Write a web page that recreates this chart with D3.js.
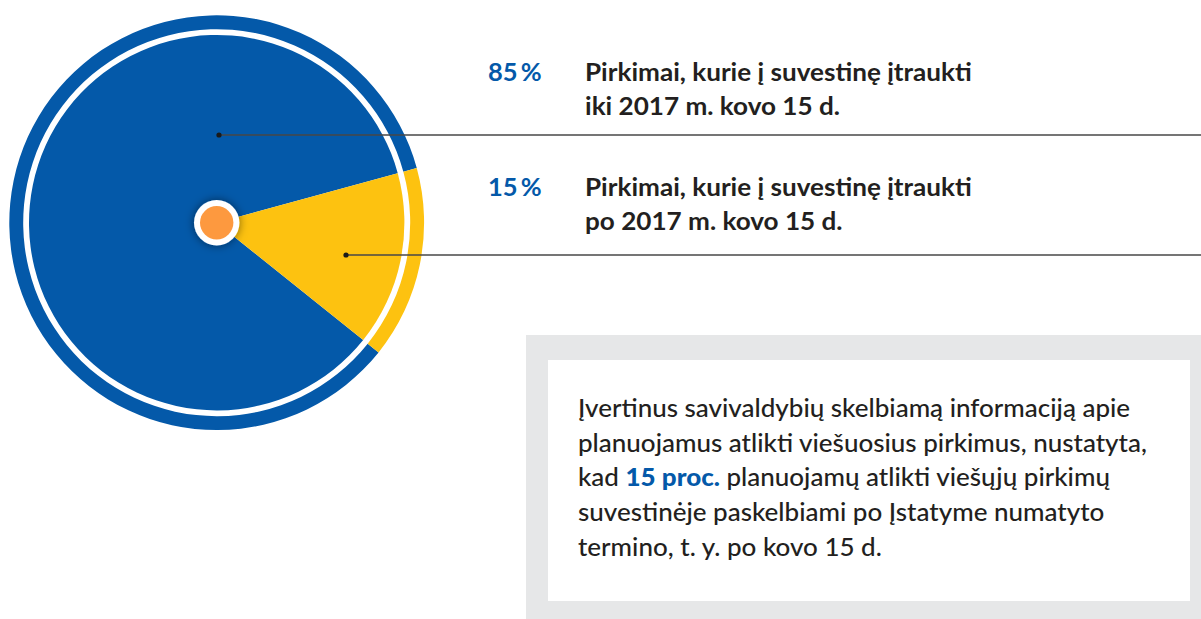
<!DOCTYPE html>
<html>
<head>
<meta charset="utf-8">
<script src="https://cdn.jsdelivr.net/npm/d3@7"></script>
<style>
  html, body { margin: 0; padding: 0; background: #fff; }
  svg { display: block; }
</style>
</head>
<body>
<script>
// data
const values = [85, 15];
const percentLabels = ['85 %', '15 %'];
const labelLines = [
  ['Pirkimai, kurie į suvestinę įtraukti', 'iki 2017 m. kovo 15 d.'],
  ['Pirkimai, kurie į suvestinę įtraukti', 'po 2017 m. kovo 15 d.']
];
const colors = ['#0459a9', '#fdc210'];
// note text, [text, bold?] pieces for each line
const noteLines = [
  [['Įvertinus savivaldybių skelbiamą informaciją apie', false]],
  [['planuojamus atlikti viešuosius pirkimus, nustatyta,', false]],
  [['kad ', false], ['15 proc.', true], [' planuojamų atlikti viešųjų pirkimų', false]],
  [['suvestinėje paskelbiami po Įstatyme numatyto', false]],
  [['termino, t. y. po kovo 15 d.', false]]
];

const width = 1201;
const height = 619;
const cx = 216.7;
const cy = 222.7;
const textColor = '#231f20';
const font = 'Lato, "Noto Sans", sans-serif';

const svg = d3.select('body')
  .append('svg')
  .attr('width', width)
  .attr('height', height);

const defs = svg.append('defs');
defs.append('filter')
  .attr('id', 'hubShadow')
  .attr('x', '-80%').attr('y', '-80%')
  .attr('width', '260%').attr('height', '260%')
  .append('feDropShadow')
  .attr('dx', 0).attr('dy', 0)
  .attr('stdDeviation', 5)
  .attr('flood-color', '#000')
  .attr('flood-opacity', 0.5);

// pie: yellow slice starts ~74.7deg clockwise from 12 o'clock
const yellowStart = 74.7 * Math.PI / 180;
const total = d3.sum(values);
const start = yellowStart + (values[1] / total) * 2 * Math.PI;

const pie = d3.pie()
  .sort(null)
  .startAngle(start)
  .endAngle(start + 2 * Math.PI);

const arcs = pie(values);

const ringArc = d3.arc().innerRadius(193.5).outerRadius(207.4);
const pieArc = d3.arc().innerRadius(0).outerRadius(187.7);

const chart = svg.append('g').attr('transform', `translate(${cx},${cy})`);

chart.selectAll('path.ring')
  .data(arcs)
  .enter()
  .append('path')
  .attr('class', 'ring')
  .attr('d', ringArc)
  .attr('fill', (d, i) => colors[i]);

chart.selectAll('path.slice')
  .data(arcs)
  .enter()
  .append('path')
  .attr('class', 'slice')
  .attr('d', pieArc)
  .attr('fill', (d, i) => colors[i]);

// center hub
chart.append('circle')
  .attr('r', 22.7)
  .attr('fill', '#fff')
  .attr('filter', 'url(#hubShadow)');
chart.append('circle')
  .attr('r', 16.7)
  .attr('fill', '#fd993f');

// leader lines (anchor points relative to centre)
const leaders = [
  { dx: 2.3, dy: -87.7 },
  { dx: 129.3, dy: 32.3 }
];

leaders.forEach((l) => {
  chart.append('line')
    .attr('x1', l.dx)
    .attr('y1', l.dy)
    .attr('x2', width - cx)
    .attr('y2', l.dy)
    .attr('stroke', '#474747')
    .attr('stroke-width', 1.6);
  chart.append('circle')
    .attr('cx', l.dx)
    .attr('cy', l.dy)
    .attr('r', 2.6)
    .attr('fill', '#1a1a1a');
});

// labels
const labelTop = [81, 196];
const lineGap = 34.5;

const labels = svg.selectAll('g.label')
  .data(values)
  .enter()
  .append('g')
  .attr('class', 'label');

labels.append('text')
  .attr('x', 488)
  .attr('y', (d, i) => labelTop[i])
  .attr('fill', colors[0])
  .style('font-family', font)
  .style('font-weight', 700)
  .style('font-size', '25.5px')
  .style('word-spacing', '-3px')
  .text((d, i) => percentLabels[i]);

const labelText = labels.append('g')
  .attr('class', 'label-lines');

labelText.each(function(d, i) {
  const g = d3.select(this);
  labelLines[i].forEach((line, j) => {
    g.append('text')
      .attr('x', 0)
      .attr('y', labelTop[i] + j * lineGap)
      .attr('fill', textColor)
      .style('font-family', font)
      .style('font-weight', 700)
      .style('font-size', '25px')
      .text(line);
  });
});

// squeeze label text so the first line spans like the reference
const refLabel = labelText.select('text').node().getComputedTextLength();
const labelScale = 387 / refLabel;
labelText.attr('transform', `translate(585,0) scale(${labelScale},1)`);

// note box
svg.append('rect')
  .attr('x', 526)
  .attr('y', 335)
  .attr('width', width - 526)
  .attr('height', height - 335)
  .attr('fill', '#e6e7e8');

svg.append('rect')
  .attr('x', 548)
  .attr('y', 360)
  .attr('width', 1190 - 548)
  .attr('height', 601 - 360)
  .attr('fill', '#fff');

const note = svg.append('g');

noteLines.forEach((pieces, i) => {
  const t = note.append('text')
    .attr('x', 0)
    .attr('y', 417 + i * 34.7)
    .attr('fill', textColor)
    .style('font-family', font)
    .style('font-weight', 500)
    .style('font-size', '24.5px');
  pieces.forEach(([str, bold]) => {
    t.append('tspan')
      .attr('fill', bold ? colors[0] : textColor)
      .style('font-weight', bold ? 900 : 500)
      .text(str);
  });
});

const refNote = note.selectAll('text').nodes()[1].getComputedTextLength();
const noteScale = 569 / refNote;
note.attr('transform', `translate(578,0) scale(${noteScale},1)`);
</script>
</body>
</html>
